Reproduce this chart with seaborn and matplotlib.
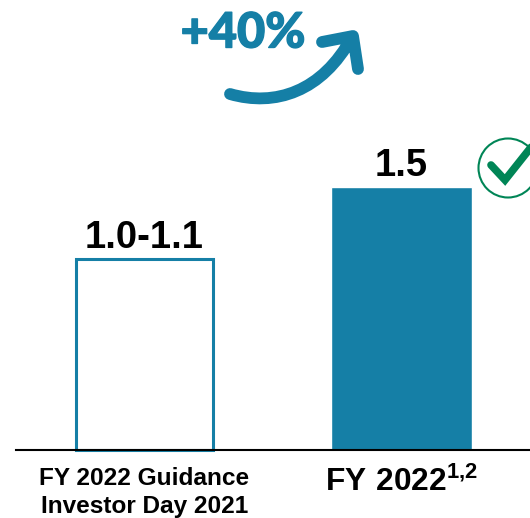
import matplotlib
matplotlib.use('Agg')
import matplotlib.pyplot as plt
import matplotlib.patheffects as pe
import seaborn as sns
from matplotlib.patches import Circle, PathPatch
from matplotlib.lines import Line2D
from matplotlib.path import Path
from matplotlib.transforms import Affine2D

categories = ['FY 2022 Guidance\nInvestor Day 2021', r'$\mathbf{FY\ 2022^{1{,}2}}$']
values = [1.1, 1.5]
value_labels = ['1.0-1.1', '1.5']
change_label = '+40%'

TEAL = '#157FA6'
GREEN = '#008556'

sns.set_style('white')
plt.rcParams['font.family'] = ['Liberation Sans', 'DejaVu Sans']
plt.rcParams['mathtext.fontset'] = 'custom'
plt.rcParams['mathtext.bf'] = 'Liberation Sans:bold'

fig = plt.figure(figsize=(5.30, 5.18), dpi=100)
ax = fig.add_axes([16/530, (518-450)/518, (530-16)/530, 450/518])

sns.barplot(x=categories, y=values, hue=categories, palette=['white', TEAL],
            width=0.545, saturation=1, legend=False, ax=ax)
ax.set_xlim(-0.5, 1.5)
ax.set_ylim(0, 450 / (263 / 1.5))

# first bar is only an outline, pulled in so the stroke stays inside the bar's size
outline = ax.patches[0]
outline.set_edgecolor(TEAL)
outline.set_linewidth(2.2)
outline.set_clip_on(False)
outline.set_x(outline.get_x() + 0.006)
outline.set_width(outline.get_width() - 0.012)
outline.set_height(outline.get_height() - 0.009)

for bars, label in zip(ax.containers, value_labels):
    ax.bar_label(bars, labels=[label], padding=2, fontsize=27.5, fontweight='bold', color='black')

for side in ['top', 'right', 'left']:
    ax.spines[side].set_visible(False)
ax.spines['bottom'].set_linewidth(1.5)
ax.spines['bottom'].set_color('black')
ax.set_yticks([])
ax.tick_params(axis='x', length=0, pad=12, colors='black')
ticks = ax.get_xticklabels()
ticks[0].set_fontsize(17.6)
ticks[0].set_fontweight('bold')
ticks[0].set_linespacing(1.3)
ticks[1].set_fontsize(22.8)

# annotations placed in image pixels, y going down
px = Affine2D().scale(1, -1).translate(0, 518)

ax.text(243, 33, change_label, transform=px, ha='center', va='center', color=TEAL,
        fontsize=35, fontweight='black', family='Lato',
        path_effects=[pe.withStroke(linewidth=1, foreground=TEAL)])

# curved arrow, stem then head
arrow = Path([(230, 94), (275, 107), (322, 92), (352, 37), (322, 42), (353, 36), (358, 69)],
             [Path.MOVETO, Path.CURVE4, Path.CURVE4, Path.CURVE4, Path.MOVETO, Path.LINETO, Path.LINETO])
ax.add_patch(PathPatch(arrow, transform=px, fill=False, edgecolor=TEAL, lw=8.5,
                       capstyle='round', joinstyle='round', clip_on=False))

ax.add_patch(Circle((508, 168), 29.5, transform=px, fill=False, edgecolor=GREEN, lw=1.5, clip_on=False))
ax.add_line(Line2D([491, 505, 532], [165, 180, 146], transform=px, color=GREEN, lw=5.5,
                   solid_joinstyle='miter', solid_capstyle='round', clip_on=False))

fig.savefig('out.png', dpi=100)
